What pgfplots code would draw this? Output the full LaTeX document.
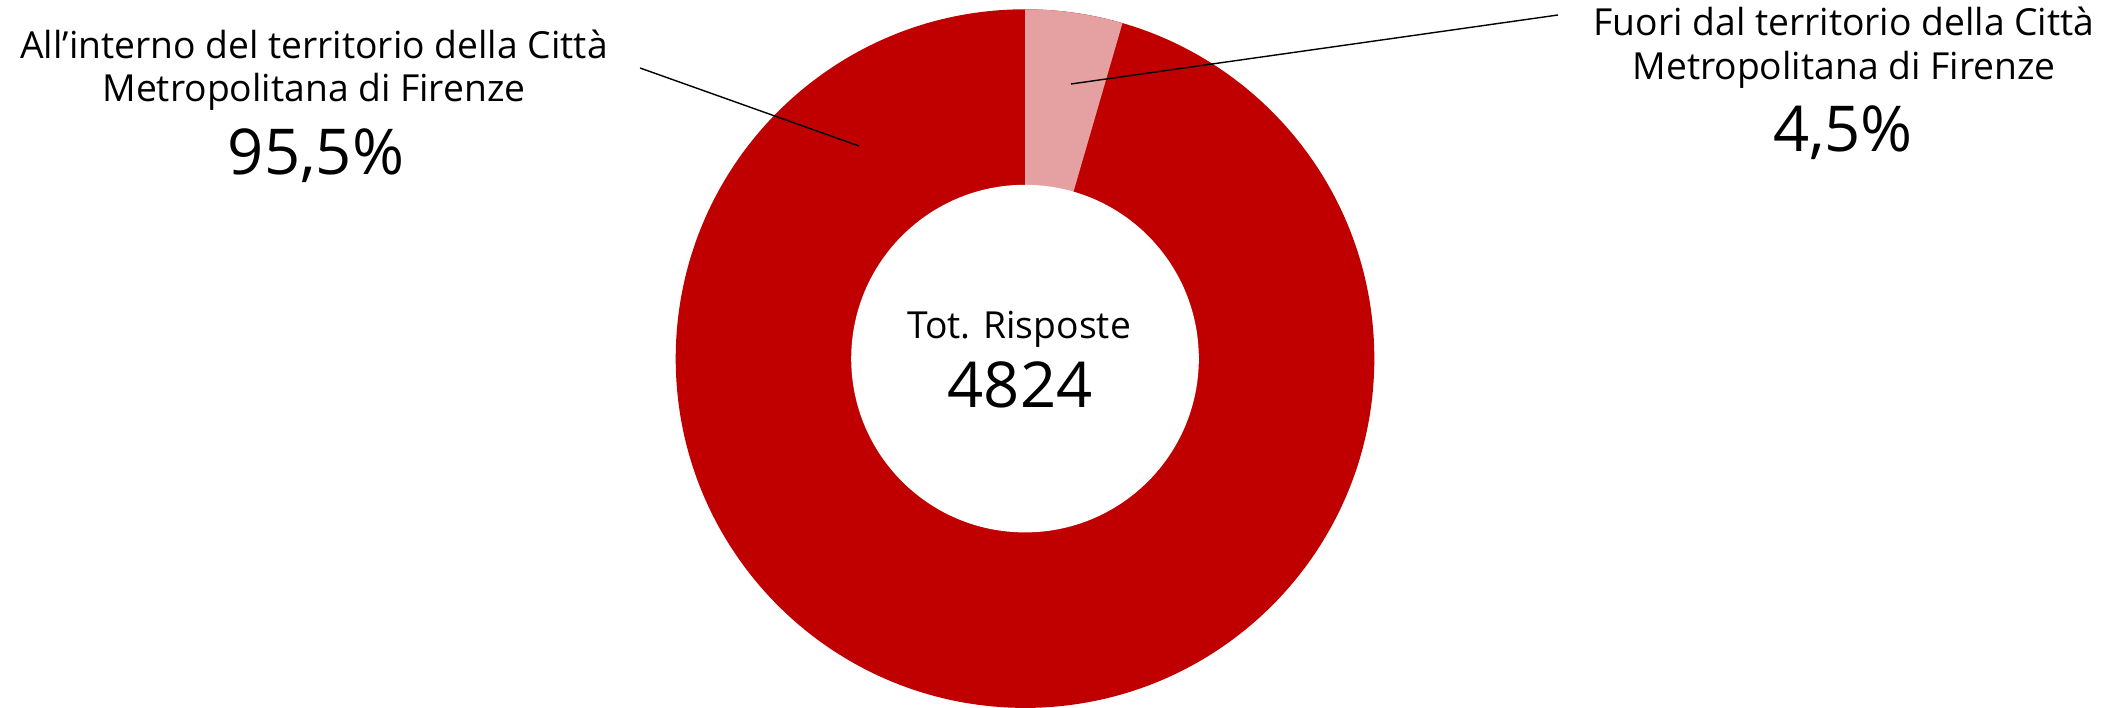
\documentclass[border=0pt]{standalone}
\usepackage{pgfplots}
\pgfplotsset{compat=1.18}
\usepackage{fontspec}
\setmainfont{Open Sans}
\definecolor{darkred}{HTML}{C00000}
\definecolor{lightred}{HTML}{E5A0A2}
% data: share of responses (%)
\def\valIn{95.5}
\def\valOut{4.5}
\def\total{4824}
\begin{document}
\begin{tikzpicture}
\pgfmathsetmacro{\angEnd}{90-\valOut*3.6}
\begin{axis}[
  anchor=origin, at={(0,0)},
  x=1cm, y=1cm,
  xmin=0, xmax=21.14, ymin=0, ymax=7.07,
  hide axis, clip=true,
]
\path (axis cs:0,0) rectangle (axis cs:21.14,7.07);
% donut
\fill[darkred] (axis cs:10.25,3.484) circle[radius=3.493cm];
\fill[lightred] (axis cs:10.25,3.484) -- +(90:3.493cm) arc[start angle=90, end angle=\angEnd, radius=3.493cm] -- cycle;
\fill[white] (axis cs:10.25,3.484) circle[radius=1.738cm];
% leader lines
\draw[black, line width=0.4pt] (axis cs:6.40,6.39) -- (axis cs:8.59,5.61);
\draw[black, line width=0.4pt] (axis cs:15.58,6.92) -- (axis cs:10.71,6.23);
% labels
\node[anchor=base, inner sep=0pt, font=\fontsize{10.6}{12.7}\selectfont] at (axis cs:3.14,6.48) {All’interno del territorio della Città};
\node[anchor=base, inner sep=0pt, font=\fontsize{10.6}{12.7}\selectfont] at (axis cs:3.14,6.05) {Metropolitana di Firenze};
\node[anchor=base, inner sep=0pt, font=\fontsize{18}{21}\selectfont] at (axis cs:3.16,5.32) {95,5\%};
\node[anchor=base, inner sep=0pt, font=\fontsize{10.6}{12.7}\selectfont] at (axis cs:18.44,6.71) {Fuori dal territorio della Città};
\node[anchor=base, inner sep=0pt, font=\fontsize{10.6}{12.7}\selectfont] at (axis cs:18.44,6.27) {Metropolitana di Firenze};
\node[anchor=base, inner sep=0pt, font=\fontsize{18}{21}\selectfont] at (axis cs:18.43,5.55) {4,5\%};
\node[anchor=base, inner sep=0pt, font=\fontsize{10.6}{12.7}\selectfont] at (axis cs:10.19,3.68) {Tot. Risposte};
\node[anchor=base, inner sep=0pt, font=\fontsize{18}{21}\selectfont] at (axis cs:10.20,2.99) {\total};
\end{axis}
\pgfresetboundingbox
\useasboundingbox (0,0) rectangle (21.14,7.07);
\end{tikzpicture}
\end{document}
